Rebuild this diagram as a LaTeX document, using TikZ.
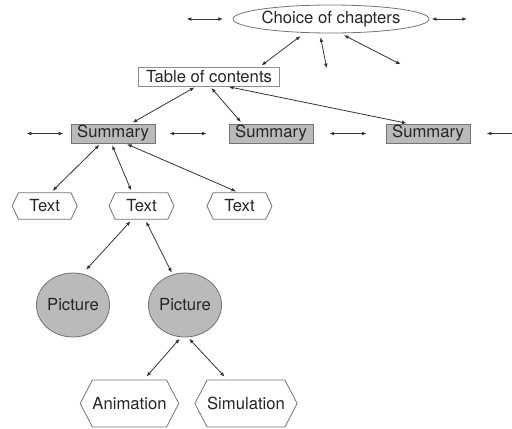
\documentclass[tikz,border=0pt]{standalone}
\usepackage{fontspec}
\setmainfont{TeX Gyre Heros}
\usetikzlibrary{shapes,arrows.meta}

\begin{document}
\begin{tikzpicture}[
        %We set the units to pixels and define some styles
        x=0.75pt, y=-0.75pt,
        link/.style={line width=0.6pt, <->, draw=black!80, shorten <=1.5pt, shorten >=1.5pt,
            >={Latex[length=3.5pt,width=2.8pt]}},
        free link/.style={link, shorten <=0pt, shorten >=0pt},
        every node/.style={font=\fontsize{12.5}{15}\selectfont, text=black!85, inner sep=0pt, line width=0.6pt},
        chapter/.style={ellipse, draw=black!55, fill=white, minimum width=141pt, minimum height=21pt},
        contents/.style={rectangle, draw=black!45, fill=white, minimum width=105.75pt, minimum height=14.25pt},
        summary/.style={rectangle, draw=black!55, fill=black!27, minimum width=63pt, minimum height=14.25pt},
        text box/.style={signal, signal to=west and east, signal pointer angle=130,
            draw=black!55, fill=white, minimum width=48.75pt, minimum height=20pt},
        picture/.style={ellipse, draw=black!55, fill=black!27, minimum width=45pt, minimum height=48pt},
        media/.style={signal, signal to=west and east, signal pointer angle=125,
            draw=black!55, fill=white, minimum height=35.25pt}
     ]
    \useasboundingbox (0,0) rectangle (512,429);
    % Loose ends of the arrows are defined
    \coordinate (loose_1) at (186.7,19);
    \coordinate (loose_2) at (223,19);
    \coordinate (loose_3) at (431.7,19);
    \coordinate (loose_4) at (467,19);
    \coordinate (loose_5) at (326.7,68.3);
    \coordinate (loose_6) at (400.7,64.3);
    \coordinate (loose_7) at (26.7,133.5);
    \coordinate (loose_8) at (63.3,133.5);
    \coordinate (loose_9) at (169.3,133.5);
    \coordinate (loose_10) at (206.7,133.5);
    \coordinate (loose_11) at (329.3,133.5);
    \coordinate (loose_12) at (366.7,133.5);
    \coordinate (loose_13) at (486.7,133.5);
    \coordinate (loose_14) at (512,133.5);

    % The nodes are placed
    \node[chapter] (choice) at (331,19) {Choice of chapters};
    \node[contents] (toc) at (209,76.5) {Table of contents};
    \node[summary] (sum_1) at (113,133.5) {Summary};
    \node[summary] (sum_2) at (271,133.5) {Summary};
    \node[summary] (sum_3) at (428,133.5) {Summary};
    \node[text box] (txt_1) at (44.7,206) {Text};
    \node[text box] (txt_2) at (141.5,206) {Text};
    \node[text box] (txt_3) at (239.5,206) {Text};
    \node[picture] (pic_1) at (73,305) {Picture};
    \node[picture] (pic_2) at (185,305) {Picture};
    \node[media, minimum width=69.75pt] (anim) at (129.5,403.5) {Animation};
    \node[media, minimum width=75pt] (sim) at (246,403.5) {Simulation};

    % Arrows without a node at either end
    \draw[free link] (loose_1) -- (loose_2);
    \draw[free link] (loose_3) -- (loose_4);
    \draw[free link] (loose_7) -- (loose_8);
    \draw[free link] (loose_9) -- (loose_10);
    \draw[free link] (loose_11) -- (loose_12);
    \draw[free link, <-] (loose_13) -- (loose_14);

    % The links between the nodes are drawn
    \draw[link, shorten <=4pt] (choice.208) -- (toc.11);
    \draw[link, shorten <=3pt, shorten >=0pt] (choice.232) -- (loose_5);
    \draw[link, shorten <=3pt, shorten >=0pt] (choice.303) -- (loose_6);
    \draw[link] (toc.218) -- (sum_1.29);
    \draw[link] (toc.276) -- (sum_2.161);
    \draw[link] (toc.331) -- (sum_3.153);
    \draw[link] (sum_1.219) -- (txt_1.65);
    \draw[link] (sum_1.261) -- (txt_2.125);
    \draw[link] (sum_1.321) -- (txt_3.96);
    \draw[link, shorten >=4pt] (txt_2.235) -- (pic_1.73);
    \draw[link] (txt_2.285) -- (pic_2.112);
    \draw[link, shorten >=3pt] (pic_2.263) -- (anim.59);
    \draw[link, shorten >=3pt] (pic_2.275) -- (sim.128);
\end{tikzpicture}
\end{document}
